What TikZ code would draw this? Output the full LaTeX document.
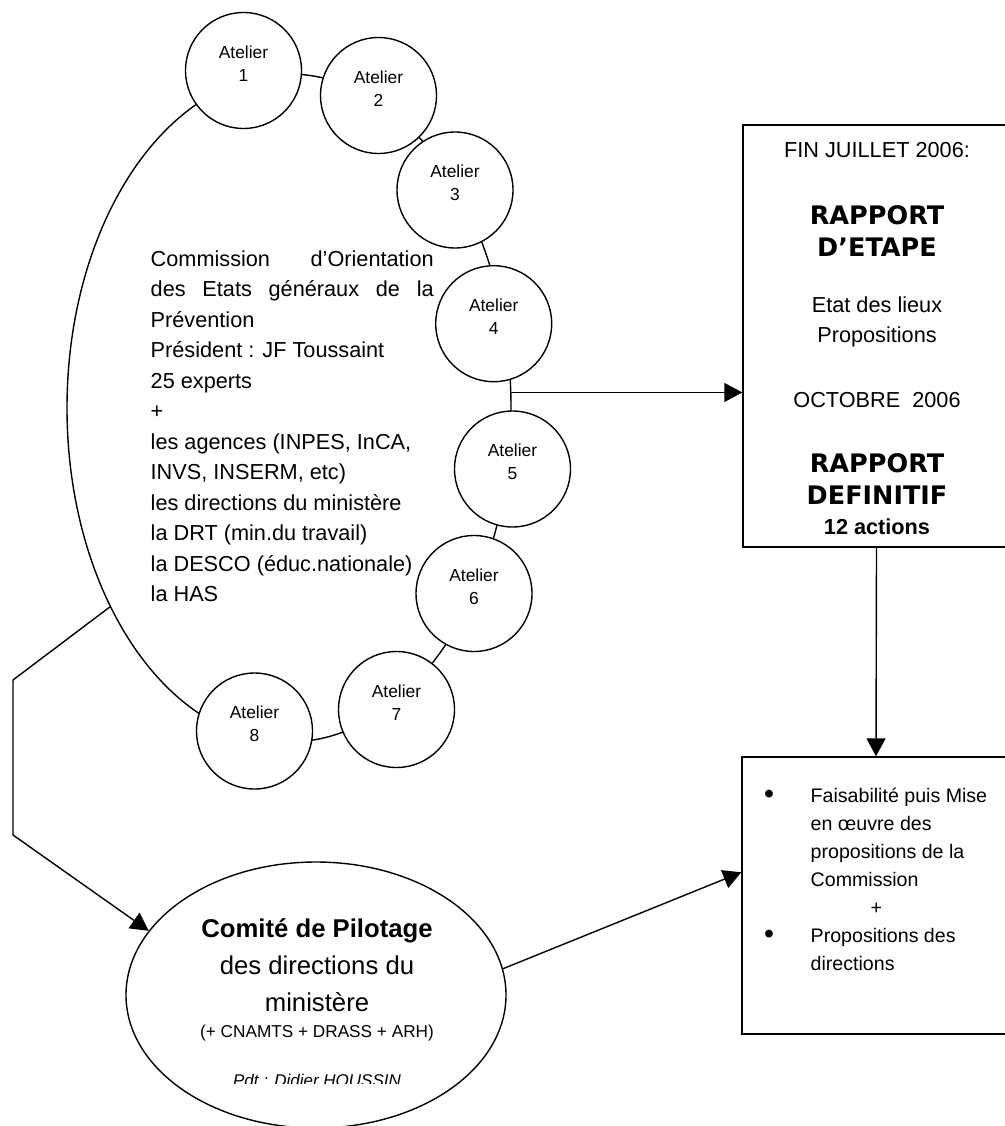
\documentclass[tikz,border=0pt]{standalone}
\usepackage{fontspec}
\setmainfont{Liberation Sans}
\newfontfamily\verdana{DejaVu Sans}
\usepackage{tikz}
\usetikzlibrary{arrows.meta,shapes.geometric}

\begin{document}
\begin{tikzpicture}[x=1pt,y=-1pt,line width=1.4pt,
        atelier/.style={draw,circle,fill=white,minimum size=116pt,inner sep=0pt},
        attxt/.style={font=\fontsize{17.4}{23}\selectfont,align=center,inner sep=0pt},
        body/.style={font=\fontsize{21.7}{30.5}\selectfont,inner sep=0pt},
        bodyb/.style={font=\bfseries\fontsize{21.7}{30.5}\selectfont,inner sep=0pt},
        big/.style={font=\verdana\bfseries\fontsize{25.5}{32}\selectfont,align=center,inner sep=0pt},
        arr/.style={-{Triangle[length=18pt,width=19pt]}}]
        \useasboundingbox (0,0) rectangle (1004,1126);
        \newcommand{\puce}{\makebox[46.5pt][l]{\raisebox{-1.5pt}{\scalebox{1.45}{•}}}}

        \node[draw,ellipse,minimum width=444pt,minimum height=668pt,inner sep=0pt] (orient) at (289,408) {};
        \foreach \i/\px/\py in {1/243.5/70.5,2/378.5/95.5,3/455/190,4/493.7/323.7,
                5/512.5/469,6/474/593.5,7/396.5/709.5,8/254.5/731}{
            \node[atelier] (at\i) at (\px,\py) {};
            \node[attxt] (lab\i) at ([yshift=7pt]at\i.center) {Atelier\\\i};
        }
        \node[body,align=left,anchor=north west] (texte) at (150,250) {%
            \makebox[283pt][s]{Commission d’Orientation}\\
            \makebox[283pt][s]{des Etats généraux de la}\\
            Prévention\\
            Président : JF Toussaint\\
            25 experts\\
            +\\
            les agences (INPES, InCA,\\
            INVS, INSERM, etc)\\
            les directions du ministère\\
            la DRT (min.du travail)\\
            la DESCO (éduc.nationale)\\
            la HAS};

        \node[draw,minimum width=267pt,minimum height=422pt,inner sep=0pt] (rap) at (876.5,336) {};
        \node[body] (fin) at (877,150) {FIN JUILLET 2006:};
        \node[big] (etape) at (877,231) {RAPPORT\\D’ETAPE};
        \node[body,align=center] (lieux) at (877,322) {Etat des lieux\\Propositions};
        \node[body] (octobre) at (877,400) {OCTOBRE\ \ 2006};
        \node[big] (definitif) at (877,479) {RAPPORT\\DEFINITIF};
        \node[bodyb] (actions) at (877,527) {12 actions};
        \draw[arr] (orient.4) -- (orient.4 -| rap.west);

        \node[draw,minimum width=268pt,minimum height=277pt,inner sep=0pt] (mise) at (876,895.5) {};
        \node[font=\fontsize{19.6}{28}\selectfont,align=left,anchor=north west,inner sep=0pt] (liste) at (763.5,787) {%
            \puce Faisabilité puis Mise\\
            \hspace*{46.5pt}en œuvre des\\
            \hspace*{46.5pt}propositions de la\\
            \hspace*{46.5pt}Commission\\
            \hspace*{106.5pt}+\\
            \puce Propositions des\\
            \hspace*{46.5pt}directions};
        \draw[arr] (rap.south) -- (mise.north);

        \node[draw,ellipse,minimum width=380pt,minimum height=266pt,inner sep=0pt] (pilot) at (316,995) {};
        \node[font=\fontsize{25.7}{37}\selectfont,align=center,inner sep=0pt] (comite) at (317,965) {\textbf{Comité de Pilotage}\\des directions du\\ministère};
        \node[font=\fontsize{17.2}{20}\selectfont,inner sep=0pt] (caisses) at (317,1033) {(+ CNAMTS + DRASS + ARH)};
        \begin{scope}
            \clip (140,1050) rectangle (500,1083);
            \node[font=\itshape\fontsize{17}{20}\selectfont,inner sep=0pt] (pdt) at (317,1080) {Pdt : Didier HOUSSIN};
        \end{scope}

        \coordinate (k1) at (13,680);
        \coordinate (k2) at (13,835);
        \draw[arr] (orient.228) -- (k1) -- (k2) -- (pilot.159);
        \draw[arr] (pilot.8) -- ([yshift=-116pt]mise.north west);
    \end{tikzpicture}
\end{document}
